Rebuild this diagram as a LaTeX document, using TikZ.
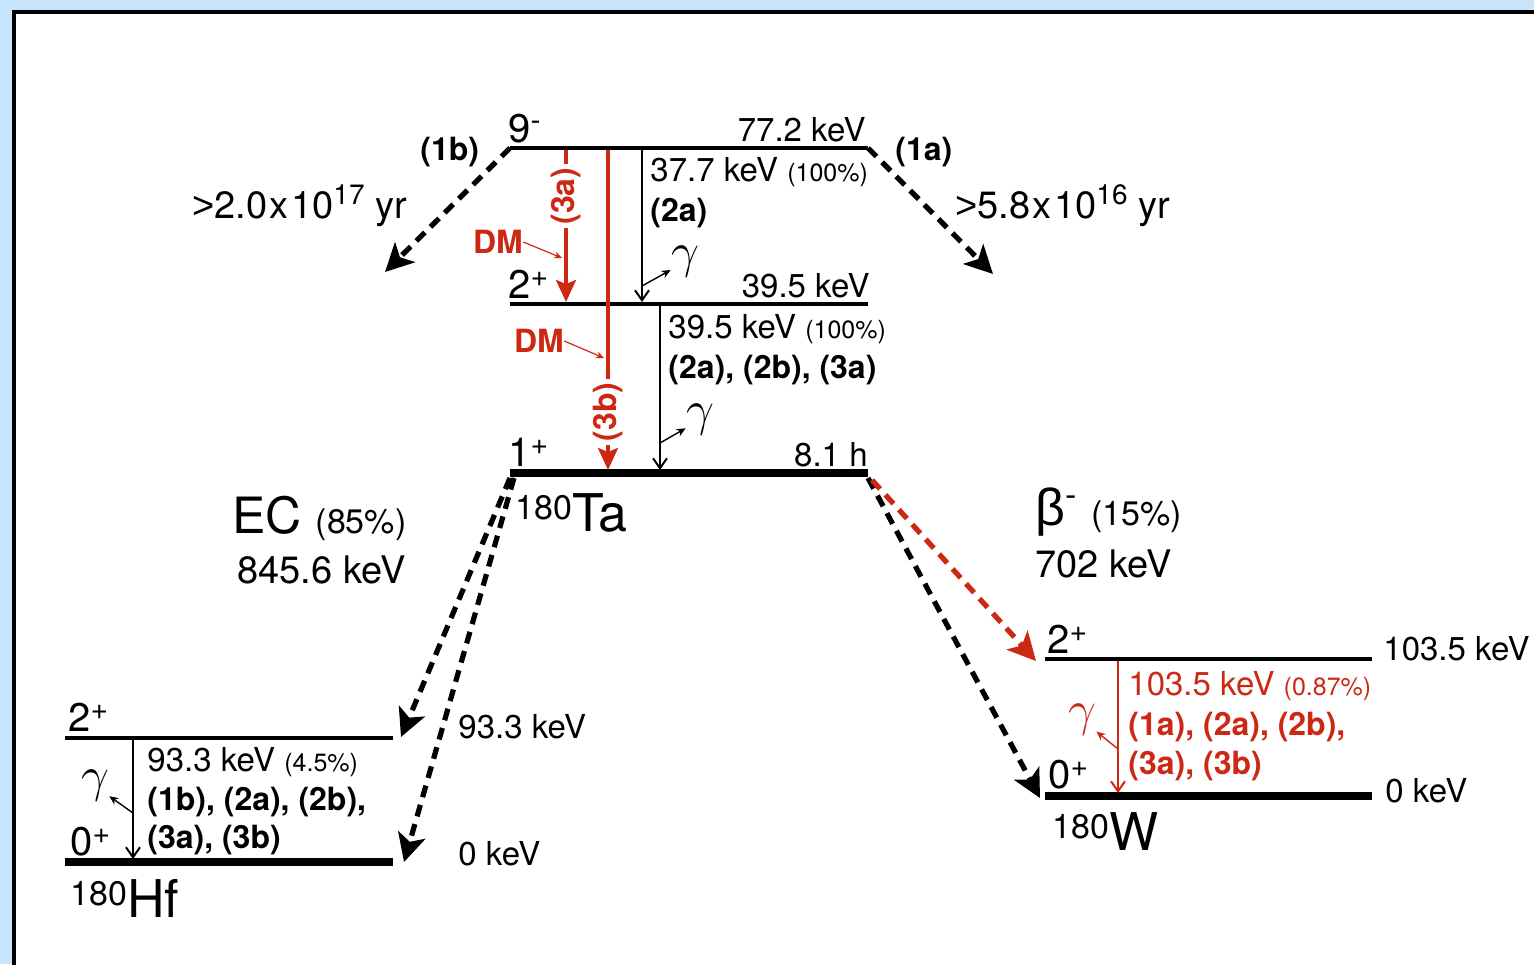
\documentclass[tikz,border=0pt]{standalone}
\usepackage{fontspec}
\setmainfont{TeX Gyre Heros}
\newfontfamily\grfont{Liberation Sans}
\usetikzlibrary{positioning, arrows.meta}
\definecolor{dmred}{RGB}{205,40,20}
\definecolor{slidebg}{RGB}{200,228,251}
\newcommand{\fs}[1]{\fontsize{#1}{#1}\selectfont}
\newcommand{\pc}[1]{{\fs{12.5}(#1\%)}}
\newcommand{\spn}[2]{#1\raisebox{0.3em}{\fs{15}#2}}
\newcommand{\iso}[2]{\raisebox{6pt}{\fs{17}#1}{\fs{26}#2}}
\newcommand{\hlf}[2]{{\grfont >}#1\kern1.2pt x\kern1.2pt 10\raisebox{0.36em}{\fs{14}#2} yr}

\begin{document}
\begin{tikzpicture}[x=0.5pt, y=-0.5pt,
    lvl/.style={line width=2pt},
    gslvl/.style={line width=3.8pt},
    gtr/.style={line width=1pt, -{Straight Barb[length=5pt, width=7pt]}},
    gsm/.style={line width=0.7pt, -{Stealth[length=4.5pt, width=4pt]}},
    decay/.style={line width=2.6pt, dash pattern=on 6pt off 4pt, -{Stealth[length=14pt, width=14pt, inset=3.5pt]}},
    dmtr/.style={dmred, line width=1.6pt},
    txt/.style={inner sep=0pt, anchor=base west, font=\fs{16.5}},
    txtr/.style={txt, anchor=base east},
    spin/.style={txt, font=\fs{20}},
    tag/.style={txt, font=\bfseries\fs{16}},
    gam/.style={inner sep=0pt, font=\fs{23}},
    dm/.style={inner sep=0pt, text=dmred, font=\bfseries\fs{16}},
  ]
	\useasboundingbox (0,0) rectangle (1534,964);
	\clip (0,0) rectangle (1534,964);
	\fill[slidebg] (0,0) rectangle (1534,964);
	\draw[line width=2.3pt, fill=white] (14,12) rectangle (1580,1000);

	\coordinate (ta9l) at (510,148); \coordinate (ta9r) at (868,148);
	\coordinate (ta2l) at (510,304); \coordinate (ta2r) at (868,304);
	\coordinate (ta1l) at (510,473); \coordinate (ta1r) at (868,473);
	\coordinate (hf2l) at (65,738);  \coordinate (hf2r) at (393,738);
	\coordinate (hf0l) at (65,862);  \coordinate (hf0r) at (393,862);
	\coordinate (w2l) at (1045,659); \coordinate (w2r) at (1372,659);
	\coordinate (w0l) at (1045,796); \coordinate (w0r) at (1372,796);

	\draw[lvl] (ta9l) -- (ta9r);
	\draw[lvl] (ta2l) -- (ta2r);
	\draw[gslvl] (ta1l) -- (ta1r);
	\draw[lvl] (hf2l) -- (hf2r);
	\draw[gslvl] (hf0l) -- (hf0r);
	\draw[lvl] (w2l) -- (w2r);
	\draw[gslvl] (w0l) -- (w0r);

	\node[spin] (s9) at (508,142) {\spn{9}{-}};
	\node[txtr] (e772) at (866,141) {77.2 keV};
	\node[spin] (s2t) at (508,298) {\spn{2}{+}};
	\node[txtr] (e395) at (870,297) {39.5 keV};
	\node[spin] (s1t) at (508,466) {\spn{1}{+}};
	\node[txtr] (t81) at (868,466) {8.1 h};
	\node[txt] (ta) at (515,531) {\iso{180}{Ta}};

	\node[tag] (l1b) at (420,160) {(1b)};
	\node[tag] (l1a) at (895,160) {(1a)};
	\node[txt, font=\fs{19}] (hl17) at (192,218) {\hlf{2.0}{17}};
	\node[txt, font=\fs{19}] (hl16) at (955,218) {\hlf{5.8}{16}};
	\coordinate (tip1b) at (385,272);
	\coordinate (tip1a) at (993,274);
	\draw[decay] (ta9l) -- (tip1b);
	\draw[decay] (ta9r) -- (tip1a);

	\coordinate (g1a) at (642,150); \coordinate (g1b) at (642,302);
	\draw[gtr] (g1a) -- (g1b);
	\node[txt] (e377) at (650,181) {37.7 keV \pc{100}};
	\node[tag] (t2a) at (650,221) {(2a)};
	\node[gam] (gm1) at (685,262) {$\gamma$};
	\coordinate (gm1s) at (642,286);
	\draw[gsm] (gm1s) -- (gm1);

	\coordinate (g2a) at (660,306); \coordinate (g2b) at (660,470);
	\draw[gtr] (g2a) -- (g2b);
	\node[txt] (e395b) at (668,338) {39.5 keV \pc{100}};
	\node[tag] (t2ab) at (668,378) {(2a), (2b), (3a)};
	\node[gam] (gm2) at (700,420) {$\gamma$};
	\coordinate (gm2s) at (660,443);
	\draw[gsm] (gm2s) -- (gm2);

	\coordinate (r3at) at (566,150); \coordinate (r3ab) at (566,302);
	\draw[dmtr, -{Stealth[length=11pt, width=10pt, inset=2pt]}] (r3at) -- (r3ab);
	\node[dm, rotate=90, fill=white, inner sep=2pt] (l3a) at (566,196) {(3a)};
	\coordinate (r3bt) at (608,150); \coordinate (r3bb) at (608,470);
	\draw[dmtr, -{Stealth[length=11pt, width=10pt, inset=2pt]}] (r3bt) -- (r3bb);
	\node[dm, rotate=90, fill=white, inner sep=2pt] (l3b) at (608,412) {(3b)};
	\node[dm] (dm1) at (498,242) {DM};
	\coordinate (dm1t) at (562,258);
	\draw[dmred, line width=0.6pt, -{Stealth[length=4pt, width=3.5pt]}] (dm1.east) -- (dm1t);
	\node[dm] (dm2) at (539,341) {DM};
	\coordinate (dm2t) at (604,358);
	\draw[dmred, line width=0.6pt, -{Stealth[length=4pt, width=3.5pt]}] (dm2.east) -- (dm2t);

	\node[txt, font=\fs{25}] (ec) at (232,533) {EC {\fs{17}(85\%)}};
	\node[txt, font=\fs{19}] (ecq) at (237,583) {845.6 keV};
	\node[txt, font=\fs{26}] (bm) at (1035,525) {{\grfont β}\raisebox{0.36em}{\fs{17}-} {\fs{17}(15\%)}};
	\node[txt, font=\fs{19}] (bq) at (1035,577) {702 keV};
	\coordinate (ecs2) at (510,478); \coordinate (ec2) at (401,737);
	\coordinate (ecs0) at (514,478); \coordinate (ec0) at (404,862);
	\draw[decay] (ecs2) -- (ec2);
	\draw[decay] (ecs0) -- (ec0);
	\coordinate (bs0) at (868,478); \coordinate (b0) at (1040,798);
	\coordinate (bs2) at (872,480); \coordinate (b2) at (1036,661);
	\draw[decay] (bs0) -- (b0);
	\draw[decay, dmred] (bs2) -- (b2);

	\node[spin] (s2h) at (68,731) {\spn{2}{+}};
	\node[spin] (s0h) at (70,855) {\spn{0}{+}};
	\coordinate (gh2) at (133,740); \coordinate (gh0) at (133,859);
	\draw[gtr] (gh2) -- (gh0);
	\node[txt] (e933) at (147,771) {93.3 keV \pc{4.5}};
	\node[tag] (t1bh) at (147,810) {(1b), (2a), (2b),};
	\node[tag] (t3h) at (147,848) {(3a), (3b)};
	\node[gam] (gm3) at (95,786) {$\gamma$};
	\coordinate (gm3s) at (133,813);
	\draw[gsm] (gm3s) -- (gm3);
	\node[txt] (hf) at (70,917) {\iso{180}{Hf}};
	\node[txt] (e933r) at (458,738) {93.3 keV};
	\node[txt] (e0h) at (458,865) {0 keV};

	\node[spin] (s2w) at (1047,653) {\spn{2}{+}};
	\node[spin] (s0w) at (1048,788) {\spn{0}{+}};
	\node[txt] (e1035r) at (1383,660) {103.5 keV};
	\node[txt] (e0w) at (1385,802) {0 keV};
	\coordinate (gw2) at (1118,661); \coordinate (gw0) at (1118,793);
	\draw[gtr, dmred] (gw2) -- (gw0);
	\node[txt, text=dmred] (e1035) at (1128,695) {103.5 keV \pc{0.87}};
	\node[tag, text=dmred] (t1aw) at (1128,735) {(1a), (2a), (2b),};
	\node[tag, text=dmred] (t3w) at (1128,774) {(3a), (3b)};
	\node[gam, text=dmred] (gm4) at (1082,720) {$\gamma$};
	\coordinate (gm4s) at (1118,749);
	\draw[gsm, dmred] (gm4s) -- (gm4);
	\node[txt] (w) at (1052,850) {\iso{180}{W}};
\end{tikzpicture}
\end{document}
